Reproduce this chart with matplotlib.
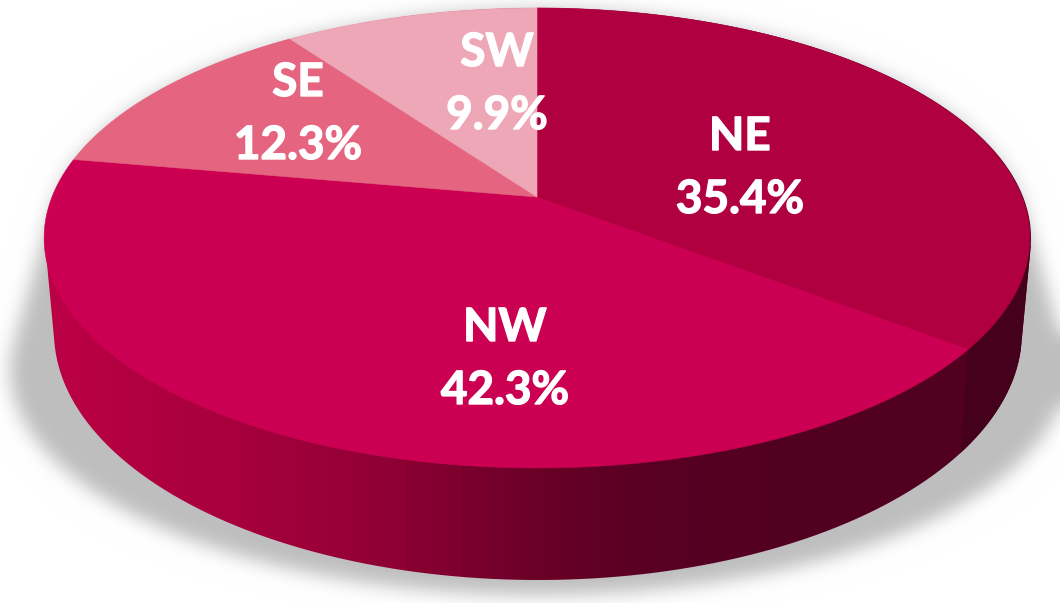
import numpy as np
import matplotlib
matplotlib.use("Agg")
import matplotlib.pyplot as plt
import matplotlib.patheffects as pe
from matplotlib.path import Path
from matplotlib.patches import PathPatch

regions = ["NE", "NW", "SE", "SW"]
shares = [35.4, 42.3, 12.3, 9.9]
top_colors = ["#B0003F", "#CC0052", "#E56580", "#EEA7B7"]

W, H = 1060, 603
fig = plt.figure(figsize=(W / 100, H / 100), dpi=100)
ax = fig.add_axes([0, 0, 1, 1])

# perspective projection of the unit disc onto the picture
AX, AY = 537.0, 197.0
SX, SY, K = 485.0, 222.7, 0.178


def project(frac):
    """frac: clockwise from 12 o'clock, 0..1 of the disc; returns pixel x, y of the rim."""
    a = 2 * np.pi * np.asarray(frac)
    u, v = np.sin(a), -np.cos(a)
    w = 1 - K * v
    return AX + SX * u / w, AY + SY * v / w


def ellipse(cx, cy, a, b, n=720):
    t = np.linspace(0, 2 * np.pi, n, endpoint=False)
    return np.column_stack([cx + a * np.cos(t), cy + b * np.sin(t)])


def hull(points):
    pts = sorted(map(tuple, points))

    def half(seq):
        out = []
        for p in seq:
            while len(out) > 1 and (out[-1][0] - out[-2][0]) * (p[1] - out[-2][1]) - (out[-1][1] - out[-2][1]) * (p[0] - out[-2][0]) <= 0:
                out.pop()
            out.append(p)
        return out[:-1]

    return np.array(half(pts) + half(pts[::-1]))


def gaussian(img, sigma):
    r = int(3 * sigma)
    k = np.exp(-0.5 * (np.arange(-r, r + 1) / sigma) ** 2)
    k /= k.sum()
    pad = np.pad(img, r, mode="edge")
    pad = np.apply_along_axis(lambda m: np.convolve(m, k, mode="same"), 0, pad)
    pad = np.apply_along_axis(lambda m: np.convolve(m, k, mode="same"), 1, pad)
    return pad[r:-r, r:-r]


# soft ground shadow
shadow_hull = hull(np.vstack([ellipse(538, 370, 528, 225), ellipse(538, 238, 490, 228)]))
yy, xx = np.mgrid[0:H, 0:W]
mask = Path(shadow_hull).contains_points(np.column_stack([xx.ravel() + 0.5, yy.ravel() + 0.5])).reshape(H, W)
alpha = gaussian(mask.astype(float), 9.0)
shade = 1 - alpha * (1 - 190 / 255)
ax.imshow(np.dstack([shade] * 3), extent=(0, W, H, 0), aspect="auto", zorder=1, interpolation="bilinear")

# side wall with banded horizontal gradient
TOP = (538, 238, 493, 230)
BOT = (538, 332, 484, 248)
wall = Path(hull(np.vstack([ellipse(*TOP), ellipse(*BOT)])))
stop_x = [45, 150, 250, 350, 400, 500, 600, 700, 800, 1060]
stop_c = np.array([[188, 0, 69], [176, 0, 64], [165, 0, 60], [150, 0, 54], [140, 0, 50],
                   [115, 0, 42], [95, 0, 36], [85, 0, 34], [82, 0, 32], [82, 0, 32]]) / 255
band = (np.arange(W) // 14) * 14 + 7
grad = np.stack([np.interp(band, stop_x, stop_c[:, i]) for i in range(3)], axis=-1)[None, :, :]
im = ax.imshow(grad, extent=(0, W, H, 0), aspect="auto", zorder=2, interpolation="nearest")
im.set_clip_path(PathPatch(wall, transform=ax.transData))

# darker wall of the first slice, from the slice's boundary to the right
fractions = np.array(shares) / np.sum(shares)
edges = np.concatenate([[0], np.cumsum(fractions)])
ex, ey = project(edges[1])
c = (ex - TOP[0]) / TOP[2]
s = np.sqrt(1 - c ** 2)
bx, by = BOT[0] + BOT[2] * c, BOT[1] + BOT[3] * s
dx, dy = bx - ex, by - ey
wedge_wall = ax.fill([ex - dx, bx + dx, W, W], [ey - dy, by + dy, by + dy, ey - dy],
                     color="#45001C", lw=0, zorder=3)[0]
wedge_wall.set_clip_path(PathPatch(wall, transform=ax.transData))

# top face
for i in range(len(shares)):
    f = np.linspace(edges[i], edges[i + 1], 200)
    x, y = project(f)
    ax.fill(np.r_[AX, x], np.r_[AY, y], color=top_colors[i], ec=top_colors[i], lw=0.4, zorder=4)

# labels: name line and value line, centred on each slice's label spot
name_xy = [(740, 137), (505, 328), (298, 83), (497, 53)]
line_gap = 63
thicken = [pe.withStroke(linewidth=1.0, foreground="white")]
for name, val, (lx, ly) in zip(regions, shares, name_xy):
    ax.text(lx, ly, name, color="white", ha="center", va="center",
            fontsize=33, fontweight="bold", family="Lato", zorder=5, path_effects=thicken)
    ax.text(lx, ly + line_gap, f"{val:.1f}%", color="white", ha="center", va="center",
            fontsize=33, fontweight="bold", family="Lato", zorder=5, path_effects=thicken)

ax.set_xlim(0, W)
ax.set_ylim(H, 0)
ax.axis("off")
fig.savefig("out.png", dpi=100, facecolor="white")
